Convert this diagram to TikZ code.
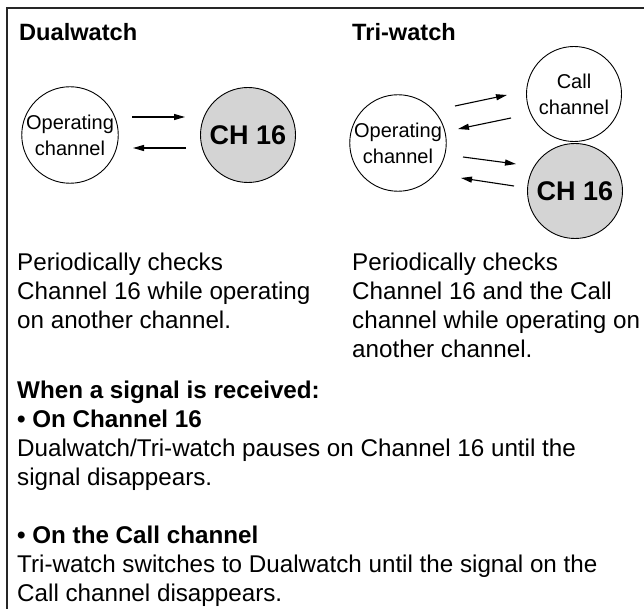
\documentclass[tikz,border=0pt]{standalone}
\usepackage{fontspec}
\setmainfont{Liberation Sans}
\usetikzlibrary{arrows.meta}
\begin{document}
\begin{tikzpicture}[x=1pt,y=-1pt,
  chan/.style={circle,draw,line width=0.9pt,minimum size=95pt,inner sep=0pt,outer sep=0pt,align=center,font=\fontsize{20}{26}\selectfont},
  hot/.style={chan,fill=black!17,font=\bfseries\fontsize{27}{30}\selectfont},
  arr/.style={line width=1.1pt,-{Triangle[length=11pt,width=6pt]}},
  txt/.style={anchor=base west,inner sep=0pt,font=\fontsize{24.2}{29}\selectfont},
  btxt/.style={txt,font=\bfseries\fontsize{24.2}{29}\selectfont},
  head/.style={txt,font=\bfseries\fontsize{23.6}{28}\selectfont},
  frame/.style={line width=1.5pt,draw=black!85}]
\useasboundingbox (0,0) rectangle (644,609);
\draw[frame] (7,609) -- (7,8) -- (644,8);

% headings
\node[head] (hd) at (19,41) {Dualwatch};
\node[head] (ht) at (352,41) {Tri-watch};

% Dualwatch diagram
\node[chan] (opd) at (70,135) {Operating\\channel};
\node[hot] (chd) at (248,135) {CH 16};
\coordinate (d1a) at (132,117); \coordinate (d1b) at (185,117);
\coordinate (d2a) at (186,148); \coordinate (d2b) at (133,148);
\draw[arr] (d1a) -- (d1b);
\draw[arr] (d2a) -- (d2b);

% Tri-watch diagram
\node[chan] (opt) at (398,143) {Operating\\channel};
\node[chan] (call) at (574,94) {Call\\channel};
\node[hot] (cht) at (575,191) {CH 16};
\coordinate (t1a) at (455,106); \coordinate (t1b) at (507,95);
\coordinate (t2a) at (511,118); \coordinate (t2b) at (458,129);
\coordinate (t3a) at (463,157); \coordinate (t3b) at (516,164);
\coordinate (t4a) at (514,186); \coordinate (t4b) at (461,178);
\draw[arr] (t1a) -- (t1b);
\draw[arr] (t2a) -- (t2b);
\draw[arr] (t3a) -- (t3b);
\draw[arr] (t4a) -- (t4b);

% descriptions
\node[txt] (l1) at (17,270) {Periodically checks};
\node[txt] (l2) at (17,299) {Channel 16 while operating};
\node[txt] (l3) at (17,328) {on another channel.};
\node[txt] (r1) at (352,270) {Periodically checks};
\node[txt] (r2) at (352,299) {Channel 16 and the Call};
\node[txt] (r3) at (352,328) {channel while operating on};
\node[txt] (r4) at (352,357) {another channel.};

\node[btxt] (w0) at (17,398) {When a signal is received:};
\node[btxt] (w1) at (17,427) {• On Channel 16};
\node[txt] (w2) at (17,456) {Dualwatch/Tri-watch pauses on Channel 16 until the};
\node[txt] (w3) at (17,485) {signal disappears.};
\node[btxt] (w4) at (17,543) {• On the Call channel};
\node[txt] (w5) at (17,572) {Tri-watch switches to Dualwatch until the signal on the};
\node[txt] (w6) at (17,601) {Call channel disappears.};
\end{tikzpicture}
\end{document}
